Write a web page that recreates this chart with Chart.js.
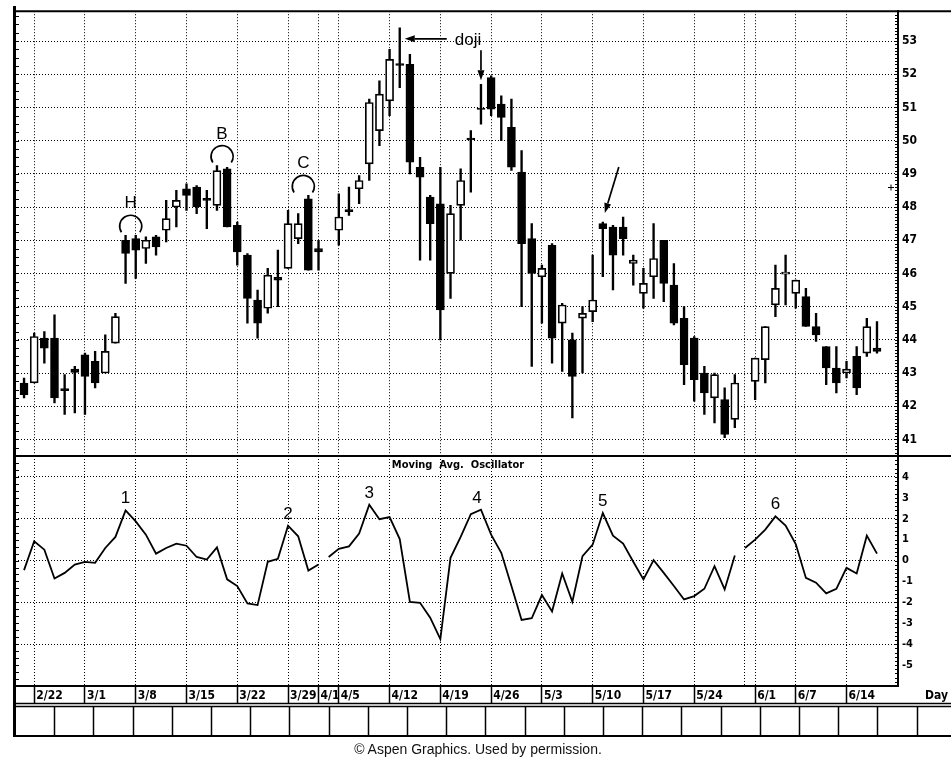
<!DOCTYPE html>
<html>
<head>
<meta charset="utf-8">
<script src="https://cdn.jsdelivr.net/npm/chart.js@4.4.1/dist/chart.umd.min.js"></script>
<style>
  html, body { margin: 0; padding: 0; background: #fff; }
  #wrap { position: relative; width: 951px; height: 762px; overflow: hidden; }
  canvas { position: absolute; left: 0; top: 0; }
  #credit { position: absolute; left: 0; top: 741px; width: 956px; text-align: center;
            font: 14px 'Liberation Sans', Arial, sans-serif; color: #111; }
</style>
</head>
<body>
<div id="wrap">
  <canvas id="price" width="951" height="762"></canvas>
  <canvas id="osc" width="951" height="762"></canvas>
  <div id="credit">© Aspen Graphics. Used by permission.</div>
</div>
<script>
// trading days, holidays (4/2, 5/31) kept as empty slots
const days = [
  '2/19','2/22','2/23','2/24','2/25','2/26',
  '3/1','3/2','3/3','3/4','3/5','3/8','3/9','3/10','3/11','3/12','3/15','3/16','3/17','3/18','3/19',
  '3/22','3/23','3/24','3/25','3/26','3/29','3/30','3/31',
  '4/1','4/2','4/5','4/6','4/7','4/8','4/9','4/12','4/13','4/14','4/15','4/16','4/19','4/20','4/21',
  '4/22','4/23','4/26','4/27','4/28','4/29','4/30',
  '5/3','5/4','5/5','5/6','5/7','5/10','5/11','5/12','5/13','5/14','5/17','5/18','5/19','5/20','5/21',
  '5/24','5/25','5/26','5/27','5/28','5/31',
  '6/1','6/2','6/3','6/4','6/7','6/8','6/9','6/10','6/11','6/14','6/15','6/16','6/17'
];

const open = [
  42.7,42.7,44.05,44.05,42.53,43.12,
  43.55,43.35,43.0,43.9,47.0,47.05,46.75,47.1,47.3,48.0,48.55,48.6,48.26,48.05,49.15,
  47.45,46.55,45.2,44.95,45.88,46.15,47.05,48.25,
  46.75,null,47.3,47.92,48.55,49.3,50.3,51.2,52.32,52.3,49.2,48.3,48.1,46.0,48.05,
  50.08,50.98,51.9,51.1,50.4,49.05,47.05,
  45.9,46.85,44.5,44.0,44.65,44.85,47.5,47.4,47.4,46.3,45.4,45.9,47.0,45.65,44.65,
  44.05,43.0,42.25,42.2,41.6,null,
  42.75,43.4,45.05,45.98,45.4,45.3,44.4,43.8,43.15,43.0,43.5,43.6,43.75
];
const high = [
  42.85,44.2,44.25,44.75,42.95,43.2,
  43.6,43.65,44.15,44.8,47.15,47.15,47.1,47.15,48.2,48.5,48.7,48.65,48.5,49.25,49.2,
  47.55,46.6,45.5,46.15,46.7,47.9,47.8,48.35,
  47.0,null,48.4,48.6,48.95,51.25,51.8,52.75,53.4,52.6,49.5,48.35,49.2,48.05,49.15,
  50.3,51.7,51.95,51.35,51.25,49.7,47.5,
  46.25,46.9,45.1,44.2,45.0,46.55,47.55,47.45,47.7,46.55,46.15,47.5,47.0,46.3,45.0,
  44.1,43.2,43.0,42.55,42.95,null,
  43.45,44.4,46.25,46.55,45.8,45.55,44.8,43.8,43.8,43.35,43.8,44.65,44.55
];
const low = [
  42.25,42.7,43.3,42.1,41.75,41.8,
  41.75,42.55,43.0,43.9,45.7,45.85,46.3,46.55,46.95,47.4,47.9,47.8,47.35,47.9,47.4,
  46.25,44.5,44.05,44.8,45.0,46.15,46.9,46.1,
  46.1,null,46.85,47.75,48.1,48.8,49.85,50.75,51.6,49.0,46.4,46.4,44.0,45.25,47.0,
  48.45,50.5,50.75,50.0,49.1,45.0,43.2,
  44.5,43.3,43.05,41.65,43.0,44.55,45.9,45.5,46.55,45.65,44.95,45.25,45.15,44.45,42.65,
  42.15,41.75,41.5,41.05,41.35,null,
  42.2,42.7,44.7,45.05,44.95,44.4,43.95,42.65,42.4,42.85,42.35,43.5,43.6
];
const close = [
  42.35,44.1,43.75,42.25,42.47,43.02,
  42.9,42.7,43.65,44.7,46.6,46.7,47.0,46.8,47.65,48.2,48.35,48.0,48.2,49.1,47.4,
  46.65,45.25,44.5,45.95,45.8,47.5,47.5,46.1,
  46.65,null,47.7,47.86,48.8,51.15,51.4,52.45,52.27,49.35,48.9,47.5,44.9,47.8,48.8,
  50.03,50.94,50.95,50.7,49.2,46.9,46.0,
  46.15,44.05,45.05,42.9,44.8,45.2,47.35,46.55,47.05,46.4,45.7,46.45,45.7,44.5,43.25,
  42.8,42.4,42.95,41.15,42.7,null,
  43.45,44.4,45.55,46.04,45.8,44.4,44.15,43.15,42.7,43.12,42.55,44.4,43.65
];

// moving average oscillator
const osc = [
  -0.46,0.92,0.52,-0.86,-0.59,-0.19,
  -0.06,-0.11,0.6,1.13,2.40,1.87,1.24,0.33,0.6,0.81,0.71,0.17,0.05,0.63,-0.9,
  -1.22,-2.05,-2.13,-0.06,0.08,1.67,1.16,-0.48,
  -0.19,0.17,0.56,0.68,1.29,2.67,1.98,2.08,1.03,-1.98,-2.02,-2.73,-3.76,0.13,1.13,
  2.22,2.43,1.24,0.37,-1.22,-2.84,-2.76,
  -1.65,-2.44,-0.62,-1.97,0.21,0.76,2.27,1.19,0.81,-0.06,-0.9,0.02,-0.59,-1.22,-1.86,
  -1.7,-1.35,-0.27,-1.38,0.24,0.6,
  1.0,1.48,2.11,1.67,0.79,-0.83,-1.06,-1.57,-1.35,-0.35,-0.62,1.19,0.33
];
const oscBreaks = ['4/1', '5/28'];   // line not joined after these days

const gridDays = ['2/22','3/1','3/8','3/15','3/22','3/29','4/1','4/5','4/12','4/19','4/26',
                  '5/3','5/10','5/17','5/24','5/31','6/1','6/7','6/14'];
const labelDays = ['2/22','3/1','3/8','3/15','3/22','3/29','4/1','4/5','4/12','4/19','4/26',
                   '5/3','5/10','5/17','5/24','6/1','6/7','6/14'];

const pairMarks = [['H', '3/5', '3/8'], ['B', '3/18', '3/19'], ['C', '3/30', '3/31']];
const oscPeaks = ['3/5', '3/29', '4/8', '4/23', '5/11', '6/3'];

const NARROW = "'Liberation Sans Narrow', 'Arial Narrow', 'DejaVu Sans Condensed', sans-serif";
const SANS = "'Liberation Sans', Arial, sans-serif";
const X_MIN = -0.89, X_MAX = 86.07;

const gridSlots = gridDays.map(d => days.indexOf(d));

const bodyData = [], wickData = [], bodyFill = [];
days.forEach((d, i) => {
  if (open[i] === null) return;
  bodyData.push({ x: i, y: [open[i], close[i]] });
  wickData.push({ x: i, y: [low[i], high[i]] });
  bodyFill.push(close[i] < open[i] ? '#000' : '#fff');
});
const oscData = osc.map((v, i) => ({ x: i, y: v }));
const breakIdx = oscBreaks.map(d => days.indexOf(d));

function line(ctx, x0, y0, x1, y1) {
  ctx.beginPath(); ctx.moveTo(x0, y0); ctx.lineTo(x1, y1); ctx.stroke();
}
function arrow(ctx, x0, y0, x1, y1) {
  const ang = Math.atan2(y1 - y0, x1 - x0), len = 10, w = 3.5;
  const bx = x1 - len * Math.cos(ang), by = y1 - len * Math.sin(ang);
  line(ctx, x0, y0, bx, by);
  ctx.beginPath();
  ctx.moveTo(x1, y1);
  ctx.lineTo(bx - w * Math.sin(ang), by + w * Math.cos(ang));
  ctx.lineTo(bx + w * Math.sin(ang), by - w * Math.cos(ang));
  ctx.closePath(); ctx.fill();
}

const priceDecor = {
  id: 'priceDecor',
  afterDraw(chart) {
    const { ctx, chartArea: a, scales: { x, y } } = chart;
    ctx.save();
    ctx.strokeStyle = '#000'; ctx.fillStyle = '#000';
    ctx.lineWidth = 2;
    line(ctx, 13, a.top, 951, a.top);
    line(ctx, 13, a.bottom, 951, a.bottom);

    // small ticks along the right axis and the left edge
    ctx.lineWidth = 1;
    for (let i = 1; i < 134; i++) {
      const py = Math.round(y.getPixelForValue(40.5 + i * 0.1)) + 0.5;
      line(ctx, a.right - 3, py, a.right, py);
    }
    for (let i = 1; i < 54; i++) {
      const py = Math.round(y.getPixelForValue(40.5 + i * 0.25)) + 0.5;
      line(ctx, a.left, py, a.left + 4, py);
    }

    // marker next to the axis
    const my = Math.round(y.getPixelForValue(48.6)) + 0.5;
    line(ctx, a.right - 10, my, a.right - 4, my);
    line(ctx, a.right - 7, my - 3, a.right - 7, my + 3);

    // arcs with letters
    ctx.font = `17px ${SANS}`; ctx.textAlign = 'center'; ctx.textBaseline = 'alphabetic';
    pairMarks.forEach(([txt, d1, d2]) => {
      const i1 = days.indexOf(d1), i2 = days.indexOf(d2);
      const cx = (x.getPixelForValue(i1) + x.getPixelForValue(i2)) / 2;
      const top = y.getPixelForValue(Math.max(high[i1], high[i2]));
      ctx.lineWidth = 1.7;
      ctx.beginPath();
      ctx.arc(cx, top - 9, 11, Math.PI - 0.58, 2 * Math.PI + 0.58);
      ctx.stroke();
      ctx.fillText(txt, cx, top - 27);
    });

    // doji arrows
    ctx.lineWidth = 1.7;
    const d1 = days.indexOf('4/13');
    const tx = x.getPixelForValue(d1) + 5, ty = y.getPixelForValue(high[d1]) + 11;
    arrow(ctx, tx + 42, ty, tx, ty);
    ctx.textAlign = 'left';
    ctx.fillText('doji', tx + 50, ty + 6);

    const d2 = days.indexOf('4/23');
    const dx = x.getPixelForValue(d2), dy = y.getPixelForValue(high[d2]) - 4;
    arrow(ctx, dx, dy - 30, dx, dy);

    const d3 = days.indexOf('5/11');
    const ax = x.getPixelForValue(d3) + 2, ay = y.getPixelForValue(high[d3]) - 9;
    arrow(ctx, ax + 14, ay - 46, ax, ay);
    ctx.restore();
  }
};

const oscDecor = {
  id: 'oscDecor',
  afterDraw(chart) {
    const { ctx, chartArea: a, scales: { x, y } } = chart;
    ctx.save();
    ctx.strokeStyle = '#000'; ctx.fillStyle = '#000';

    ctx.lineWidth = 3;
    line(ctx, 14.5, 6, 14.5, 737);

    // empty table under the dates
    ctx.lineWidth = 1.5;
    line(ctx, 14, 703.5, 951, 703.5);
    line(ctx, 14, 706.5, 951, 706.5);
    ctx.lineWidth = 2;
    line(ctx, 14, 736, 951, 736);
    ctx.lineWidth = 1.5;
    for (let k = 1; k < 24; k++) {
      const px = Math.round(15 + k * 39.2) + 0.5;
      line(ctx, px, 706, px, 736);
    }

    ctx.lineWidth = 1;
    for (let i = 1; i < 55; i++) {
      const py = Math.round(y.getPixelForValue(-6 + i * 0.2)) + 0.5;
      line(ctx, a.right - 3, py, a.right, py);
    }
    for (let i = 1; i < 33; i++) {
      const py = Math.round(y.getPixelForValue(-6 + i / 3)) + 0.5;
      line(ctx, a.left, py, a.left + 4, py);
    }

    ctx.font = `bold 11px ${NARROW}`; ctx.textAlign = 'center'; ctx.textBaseline = 'middle';
    ctx.fillText('Moving  Avg.  Oscillator', 458, a.top + 9);
    ctx.textAlign = 'left';
    ctx.font = `bold 12px ${NARROW}`;
    ctx.fillText('Day', 925, 696);

    ctx.font = `17px ${SANS}`; ctx.textAlign = 'center'; ctx.textBaseline = 'alphabetic';
    oscPeaks.forEach((d, k) => {
      const i = days.indexOf(d);
      ctx.fillText(String(k + 1), x.getPixelForValue(i) + (k === 3 ? -4 : 0), y.getPixelForValue(osc[i]) - 7);
    });
    ctx.restore();
  }
};

const dots = [1, 2];

new Chart(document.getElementById('price'), {
  type: 'bar',
  data: {
    datasets: [
      { data: bodyData, backgroundColor: bodyFill, borderColor: '#000', borderWidth: 1.7,
        borderSkipped: false, barThickness: 8, grouped: false },
      { data: wickData, backgroundColor: '#000', borderWidth: 0, barThickness: 1.7, grouped: false }
    ]
  },
  options: {
    responsive: false, animation: false, events: [],
    layout: { padding: { left: 15, top: 7, right: 0, bottom: 306 } },
    plugins: { legend: { display: false }, tooltip: { enabled: false } },
    scales: {
      x: {
        type: 'linear', min: X_MIN, max: X_MAX, offset: false,
        ticks: { display: false },
        grid: { color: '#000', lineWidth: 1, drawTicks: false, offset: false },
        border: { display: false, dash: dots },
        afterBuildTicks: s => { s.ticks = gridSlots.map(v => ({ value: v })); },
        afterFit: s => { s.height = 0; }
      },
      y: {
        position: 'right', min: 40.5, max: 53.9,
        ticks: { stepSize: 1, includeBounds: false, color: '#000', padding: 4,
                 font: { family: NARROW, size: 12, weight: 'bold' } },
        grid: { color: '#000', lineWidth: 1, drawTicks: false },
        border: { display: true, color: '#000', width: 2, dash: dots },
        afterFit: s => { s.width = 53; }
      }
    }
  },
  plugins: [priceDecor]
});

new Chart(document.getElementById('osc'), {
  type: 'line',
  data: {
    datasets: [{
      data: oscData, borderColor: '#000', borderWidth: 1.8, pointRadius: 0, tension: 0, fill: false,
      segment: { borderColor: c => breakIdx.includes(c.p0DataIndex) ? 'transparent' : '#000' }
    }]
  },
  options: {
    responsive: false, animation: false, events: [],
    layout: { padding: { left: 15, top: 456, right: 0, bottom: 59 } },
    plugins: { legend: { display: false }, tooltip: { enabled: false } },
    scales: {
      x: {
        type: 'linear', min: X_MIN, max: X_MAX, offset: false,
        afterBuildTicks: s => { s.ticks = gridSlots.map(v => ({ value: v })); },
        afterFit: s => { s.height = 17; },
        ticks: {
          autoSkip: false, maxRotation: 0, minRotation: 0, align: 'start', labelOffset: 2, padding: -14,
          color: '#000', font: { family: NARROW, size: 12, weight: 'bold' },
          callback: v => labelDays.includes(days[v]) ? days[v] : ''
        },
        grid: {
          color: '#000', lineWidth: 1, drawTicks: true, tickLength: 17, tickWidth: 1.5,
          tickColor: c => (c.tick && labelDays.includes(days[c.tick.value])) ? '#000' : 'transparent'
        },
        border: { display: true, color: '#000', width: 2, dash: dots }
      },
      y: {
        position: 'right', min: -6, max: 5,
        ticks: { stepSize: 1, color: '#000', padding: 4,
                 font: { family: NARROW, size: 11, weight: 'bold' },
                 callback: v => (v > 4 || v < -5) ? '' : String(v) },
        grid: {
          drawTicks: false, lineWidth: 1,
          color: c => (c.tick && c.tick.value % 2 === 0 && Math.abs(c.tick.value) <= 4) ? '#000' : 'transparent'
        },
        border: { display: true, color: '#000', width: 2, dash: dots },
        afterFit: s => { s.width = 53; }
      }
    }
  },
  plugins: [oscDecor]
});
</script>
</body>
</html>
